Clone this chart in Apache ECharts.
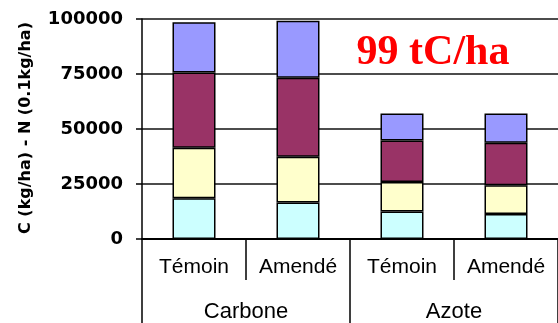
<!DOCTYPE html>
<html><head><meta charset="utf-8">
<script src="https://cdn.jsdelivr.net/npm/echarts@6/dist/echarts.min.js"></script>
<style>html,body{margin:0;padding:0;background:#fff}#c{width:558px;height:323px}</style>
</head><body><div id="c"></div>
<script>
const treatments = ['Témoin','Amendé','Témoin','Amendé'];
const groups = ['Carbone','Azote'];
const layer1 = [18500, 16600, 12500, 11400];
const layer2 = [23000, 20800, 13400, 13000];
const layer3 = [34200, 35900, 18900, 19300];
const layer4 = [22800, 25900, 12200, 13300];
const yTicks = [0, 25000, 50000, 75000, 100000];
const colors = ['#CCFFFF','#FFFFCC','#993366','#9999FF'];
const yTitle = 'C (kg/ha) - N (0.1kg/ha)';
const note = '99 tC/ha';

const chart = echarts.init(document.getElementById('c'));
const layers = [layer1, layer2, layer3, layer4];
chart.setOption({
  animation:false,
  grid:{left:142, top:19, width:420, height:221},
  xAxis:[{
    type:'category', data:treatments, position:'bottom',
    axisLine:{lineStyle:{color:'#000', width:2}},
    axisTick:{show:true, interval:0, length:41, lineStyle:{color:'#000', width:1.5}},
    axisLabel:{interval:0, margin:18, color:'#000', fontFamily:'Liberation Sans', fontSize:21}
  },{
    type:'category', data:groups, position:'bottom', offset:0,
    axisLine:{show:false},
    axisTick:{show:true, interval:0, length:85, lineStyle:{color:'#000', width:1.5}},
    axisLabel:{interval:0, margin:62, color:'#000', fontFamily:'Liberation Sans', fontSize:22}
  }],
  yAxis:{
    type:'value', min:0, max:100000, interval:25000,
    axisLine:{show:true, lineStyle:{color:'#000', width:1.5}},
    axisTick:{show:true, length:6, lineStyle:{color:'#000', width:1.5}},
    splitLine:{lineStyle:{color:'#111', width:1.5}},
    axisLabel:{margin:19, color:'#000', fontFamily:'DejaVu Sans', fontWeight:'bold', fontSize:18,
      formatter:v=>yTicks.includes(v)?String(v):''}
  },
  series: layers.map((d,i)=>({
    type:'bar', stack:'s', data:d, barWidth:43, xAxisIndex:0,
    itemStyle:{color:colors[i], borderColor:'#000', borderWidth:1.5}
  })),
  graphic:[
    {type:'text', x:26, y:128, rotation:Math.PI/2,
     style:{text:yTitle, align:'center', verticalAlign:'middle', fill:'#000',
       font:'bold 16px "DejaVu Sans"'}},
    {type:'text', x:433, y:53,
     style:{text:note, align:'center', verticalAlign:'middle', fill:'#FF0000',
       font:'bold 42px "Liberation Serif"'}}
  ]
});
</script></body></html>
